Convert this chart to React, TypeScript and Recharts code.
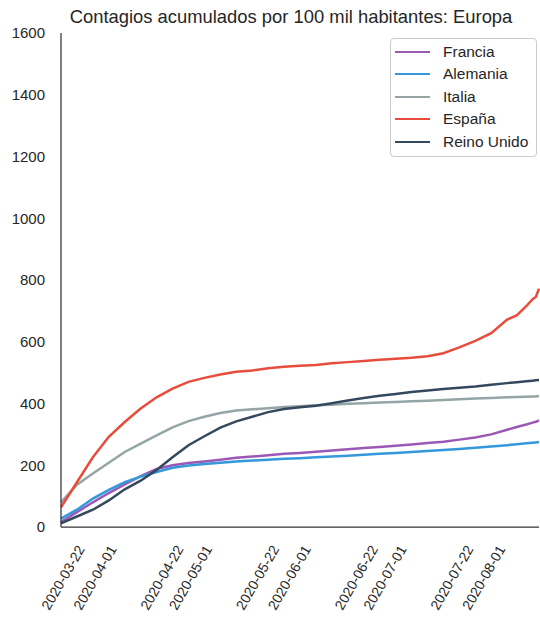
import { Legend, Line, LineChart, XAxis, YAxis } from "recharts";

const FONT = "'Liberation Sans', Arial, sans-serif";
const INK = "#262626";

// sample dates (roughly every 5 days, denser at the end)
const dates = [
    "2020-03-21", "2020-03-26", "2020-03-31", "2020-04-05", "2020-04-10",
    "2020-04-15", "2020-04-20", "2020-04-25", "2020-04-30", "2020-05-05",
    "2020-05-10", "2020-05-15", "2020-05-20", "2020-05-25", "2020-05-30",
    "2020-06-04", "2020-06-09", "2020-06-14", "2020-06-19", "2020-06-24",
    "2020-06-29", "2020-07-04", "2020-07-09", "2020-07-14", "2020-07-19",
    "2020-07-24", "2020-07-29", "2020-08-03", "2020-08-08", "2020-08-11",
    "2020-08-14", "2020-08-16", "2020-08-17", "2020-08-18",
];

const francia = [
    16, 48, 80, 110, 138, 165, 188, 200, 207, 212,
    218, 224, 228, 232, 237, 240, 244, 248, 252, 256,
    259, 263, 267, 272, 276, 283, 290, 300, 315, 324,
    332, 338, 341, 345,
];
const alemania = [
    27, 56, 92, 120, 145, 163, 178, 192, 199, 204,
    208, 212, 215, 218, 221, 223, 226, 228, 231, 234,
    237, 240, 243, 246, 249, 253, 257, 261, 265, 268,
    271, 273, 274, 275,
];
const italia = [
    80, 137, 173, 208, 243, 270, 297, 323, 343, 357,
    369, 377, 381, 385, 389, 391, 394, 396, 399, 401,
    403, 405, 407, 409, 411, 414, 416, 418, 420, 421,
    422, 423, 423, 424,
];
const espana = [
    64, 145, 226, 292, 340, 384, 420, 448, 470, 483,
    494, 503, 507, 514, 519, 522, 525, 530, 534, 538,
    542, 545, 548, 553, 563, 582, 603, 628, 672, 685,
    715, 738, 745, 772,
];
const reinoUnido = [
    12, 34, 56, 86, 122, 150, 185, 226, 265, 294,
    322, 342, 357, 372, 382, 388, 393, 401, 410, 418,
    425, 431, 437, 442, 447, 451, 455, 461, 466, 469,
    472, 474, 475, 476,
];

const xTicks = [
    "2020-03-22", "2020-04-01", "2020-04-22", "2020-05-01", "2020-05-22",
    "2020-06-01", "2020-06-22", "2020-07-01", "2020-07-22", "2020-08-01",
];
const yTicks = [0, 200, 400, 600, 800, 1000, 1200, 1400, 1600];

const series = [
    { key: "francia", name: "Francia", color: "#9b59b6" },
    { key: "alemania", name: "Alemania", color: "#3498db" },
    { key: "italia", name: "Italia", color: "#95a5a6" },
    { key: "espana", name: "España", color: "#e74c3c" },
    { key: "reinoUnido", name: "Reino Unido", color: "#34495e" },
];

const rows = dates.map((d, i) => ({
    t: Date.parse(d),
    francia: francia[i],
    alemania: alemania[i],
    italia: italia[i],
    espana: espana[i],
    reinoUnido: reinoUnido[i],
}));

const fmtDate = (t: number) => new Date(t).toISOString().slice(0, 10);

function DateTick(props: any) {
    const { x, y, payload } = props;
    return (
        <g transform={`translate(${x + 21},${y + 22})`}>
            <text
                transform="rotate(-60)"
                textAnchor="end"
                fontSize={14}
                fontFamily={FONT}
                fill={INK}
            >
                {fmtDate(payload.value)}
            </text>
        </g>
    );
}

function LegendBox() {
    return (
        <div
            style={{
                boxSizing: "border-box",
                width: 147,
                height: 119,
                paddingTop: 2,
                paddingLeft: 4,
                border: "1px solid #cccccc",
                borderRadius: 4,
                background: "rgba(255,255,255,0.8)",
                fontFamily: FONT,
                fontSize: 15.5,
                color: INK,
            }}
        >
            {series.map((s) => (
                <div
                    key={s.key}
                    style={{ display: "flex", alignItems: "center", height: 22.5 }}
                >
                    <span
                        style={{
                            display: "inline-block",
                            width: 35,
                            borderTop: `2.5px solid ${s.color}`,
                            marginRight: 13,
                        }}
                    />
                    {s.name}
                </div>
            ))}
        </div>
    );
}

export default function App() {
    return (
        <div style={{ position: "absolute", left: 0, top: 0, width: 540, height: 622 }}>
            <div
                style={{
                    position: "absolute",
                    left: 0,
                    top: 8,
                    width: 582,
                    textAlign: "center",
                    fontFamily: FONT,
                    fontSize: 18.4,
                    lineHeight: "18px",
                    color: INK,
                    whiteSpace: "nowrap",
                }}
            >
                Contagios acumulados por 100 mil habitantes: Europa
            </div>
            <LineChart
                width={540}
                height={622}
                data={rows}
                margin={{ top: 33, right: 1, bottom: 0, left: 0 }}
            >
                <XAxis
                    type="number"
                    dataKey="t"
                    domain={[Date.parse(dates[0]), Date.parse(dates[dates.length - 1])]}
                    ticks={xTicks.map((d) => Date.parse(d))}
                    interval={0}
                    height={95}
                    tickLine={false}
                    tickSize={0}
                    tickMargin={0}
                    axisLine={{ stroke: "#333333", strokeWidth: 1.25 }}
                    tick={<DateTick />}
                />
                <YAxis
                    domain={[0, 1600]}
                    ticks={yTicks}
                    interval={0}
                    width={61}
                    tickLine={false}
                    tickSize={6}
                    tickMargin={10}
                    axisLine={{ stroke: "#333333", strokeWidth: 1.25 }}
                    tick={{ fontSize: 15, fontFamily: FONT, fill: INK }}
                />
                <Legend
                    layout="vertical"
                    align="center"
                    verticalAlign="middle"
                    content={<LegendBox />}
                    wrapperStyle={{ left: 390, top: 37.5, width: 147, height: 119 }}
                />
                {series.map((s) => (
                    <Line
                        key={s.key}
                        type="linear"
                        dataKey={s.key}
                        name={s.name}
                        stroke={s.color}
                        strokeWidth={2.5}
                        dot={false}
                        isAnimationActive={false}
                    />
                ))}
            </LineChart>
        </div>
    );
}
